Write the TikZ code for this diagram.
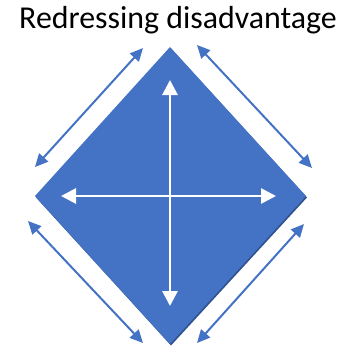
\documentclass[tikz,border=0pt]{standalone}
\usepackage{fontspec}
\setmainfont{Carlito}
\usetikzlibrary{arrows.meta}
\definecolor{dblue}{HTML}{4472C4}
\definecolor{ddark}{HTML}{2F528F}
\begin{document}
\begin{tikzpicture}[x=1bp,y=-1bp,
  outarrow/.style={draw=dblue,line width=2bp,{Triangle[length=13bp,width=12bp]}-{Triangle[length=13bp,width=12bp]}},
  inarrow/.style={draw=white,line width=2.8bp,{Triangle[length=15bp,width=15bp]}-{Triangle[length=15bp,width=15bp]}}]
\useasboundingbox (0,0) rectangle (346,351);
\node[font=\fontsize{32}{38}\selectfont,anchor=base,inner sep=0] (title) at (178,28) {Redressing disadvantage};
% diamond
\coordinate (T) at (170,47);
\coordinate (L) at (35,196);
\coordinate (R) at (306,196);
\coordinate (B) at (170,344);
\fill[ddark] ([shift={(1,1.5)}]T) -- ([shift={(1,1.5)}]R) -- ([shift={(1,1.5)}]B) -- ([shift={(1,1.5)}]L) -- cycle;
\fill[dblue] (T) -- (R) -- (B) -- (L) -- cycle;
% inner arrows
\coordinate (vt) at (170,80);
\coordinate (vb) at (170,306);
\coordinate (hl) at (61,196);
\coordinate (hr) at (276,196);
\draw[inarrow] (vt) -- (vb);
\draw[inarrow] (hl) -- (hr);
% outer arrows
\coordinate (a1) at (143,48); \coordinate (a2) at (35,167);
\coordinate (b1) at (197,45); \coordinate (b2) at (312,168);
\coordinate (c1) at (28,221); \coordinate (c2) at (143,343);
\coordinate (d1) at (304,224); \coordinate (d2) at (197,343);
\draw[outarrow] (a1) -- (a2);
\draw[outarrow] (b1) -- (b2);
\draw[outarrow] (c1) -- (c2);
\draw[outarrow] (d1) -- (d2);
\end{tikzpicture}
\end{document}
